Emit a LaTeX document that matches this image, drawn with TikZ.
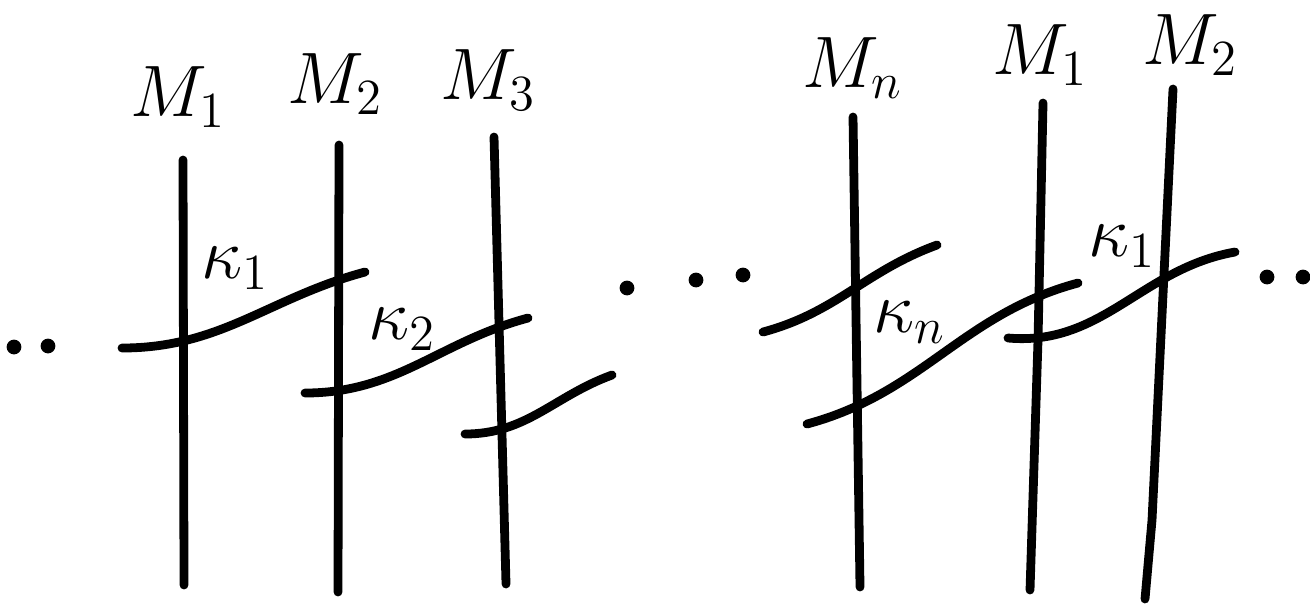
\documentclass[tikz,border=0pt]{standalone}
\begin{document}
\begin{tikzpicture}[x=0.01cm, y=-0.01cm,
    strand/.style={line width=2.5pt, line cap=round},
    lbl/.style={font=\fontsize{22}{26}\selectfont},
    klbl/.style={font=\fontsize{21}{25}\selectfont, inner sep=0pt}]
  \useasboundingbox (0,0) rectangle (1310,605);
  % vertical lines
  \coordinate (t1) at (183,160);  \coordinate (b1) at (184,585);
  \coordinate (t2) at (339,145);  \coordinate (b2) at (338,592);
  \coordinate (t3) at (494,137);  \coordinate (b3) at (506,584);
  \coordinate (tn) at (853,117);  \coordinate (bn) at (860,587);
  \coordinate (t4) at (1043,103); \coordinate (b4) at (1030,590);
  \coordinate (t5) at (1173,89);  \coordinate (b5) at (1145,599);
  \draw[strand] (t1) -- (b1);
  \draw[strand] (t2) -- (b2);
  \draw[strand] (t3) -- (b3);
  \draw[strand] (tn) -- (bn);
  \draw[strand] (t4) -- (1038,340) -- (b4);
  \draw[strand] (t5) -- (1152,520) -- (b5);
  % labels on top
  \node[lbl] (m1) at (178,97) {$M_1$};
  \node[lbl] (m2) at (335,84) {$M_2$};
  \node[lbl] (m3) at (488,80) {$M_3$};
  \node[lbl] (mn) at (853,68) {$M_n$};
  \node[lbl] (m1b) at (1040,55) {$M_1$};
  \node[lbl] (m2b) at (1190,45) {$M_2$};
  % crossing strands
  \draw[strand] (122,348) to[out=0, in=195] (365,272);
  \draw[strand] (305,393) to[out=0, in=195] (528,318);
  \draw[strand] (465,434) to[out=0, in=200] (612,375);
  \draw[strand] (763,332) to[out=15, in=200] (937,245);
  \draw[strand] (807,424) to[out=15, in=195] (1078,283);
  \draw[strand] (1008,338) to[out=-5, in=190] (1235,252);
  \node[klbl] (k1) at (235,268) {$\kappa_1$};
  \node[klbl] (k2) at (402,329) {$\kappa_2$};
  \node[klbl] (kn) at (910,322) {$\kappa_n$};
  \node[klbl] (k1b) at (1122,246) {$\kappa_1$};
  % dots
  \foreach \p in {(14,347),(48,346),(627,288),(696,280),(743,275),(1267,277),(1303,277)}
    \fill \p circle[radius=2.1pt];
\end{tikzpicture}
\end{document}
